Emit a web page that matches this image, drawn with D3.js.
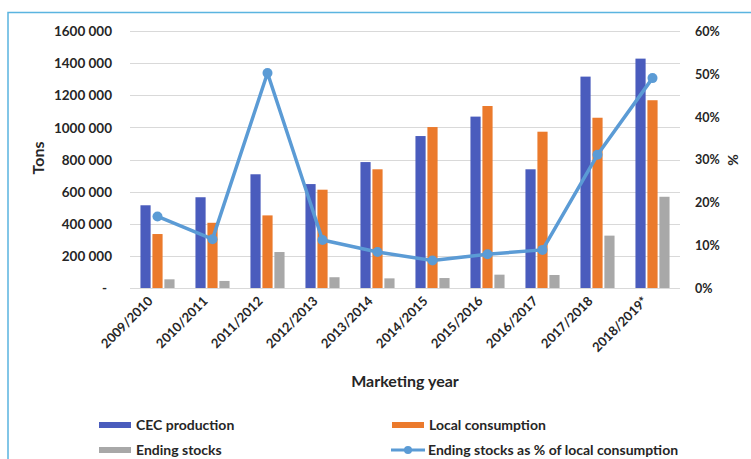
<!DOCTYPE html>
<html>
<head>
<meta charset="utf-8">
<script src="https://cdn.jsdelivr.net/npm/d3@7"></script>
<style>
  body { margin: 0; background: #fff; }
  svg { display: block; font-family: Lato, "Open Sans", sans-serif; font-weight: bold; }
  .grid line { stroke: #d9d9d9; stroke-width: 1; }
</style>
</head>
<body>
<svg id="chart" width="751" height="459"></svg>
<script>
const years = ['2009/2010', '2010/2011', '2011/2012', '2012/2013', '2013/2014',
  '2014/2015', '2015/2016', '2016/2017', '2017/2018', '2018/2019*'];
const production = [515000, 565000, 708000, 647000, 784000, 946000, 1067000, 739000, 1316000, 1428000];
const consumption = [336000, 406000, 452000, 612000, 739000, 1002000, 1133000, 973000, 1060000, 1169000];
const stocks = [54000, 44000, 224000, 67000, 60000, 62000, 83000, 81000, 326000, 568000];
const stockPct = [0.167, 0.114, 0.502, 0.112, 0.084, 0.064, 0.079, 0.089, 0.311, 0.490];

const tonTicks = [0, 200000, 400000, 600000, 800000, 1000000, 1200000, 1400000, 1600000];
const tonLabels = ['-', '200 000', '400 000', '600 000', '800 000', '1000 000', '1200 000', '1400 000', '1600 000'];
const pctTicks = [0, 0.1, 0.2, 0.3, 0.4, 0.5, 0.6];

const seriesNames = ['CEC production', 'Local consumption', 'Ending stocks'];
const seriesColors = ['#4a5cbd', '#eb7a2c', '#a8a8a8'];
const lineName = 'Ending stocks as % of local consumption';
const lineColor = '#5b9bd5';

const MARGIN = { LEFT: 130, RIGHT: 71, TOP: 31, BOTTOM: 171 };
const WIDTH = 751, HEIGHT = 459;

const svg = d3.select('#chart');

// frame round the figure (only top and left show)
svg.append('rect')
  .attr('x', 8).attr('y', 12.5)
  .attr('width', 800).attr('height', 500)
  .attr('fill', 'none')
  .attr('stroke', '#5ab4e0')
  .attr('stroke-width', 1.5);

const x0 = d3.scaleBand()
  .domain(years)
  .range([MARGIN.LEFT, WIDTH - MARGIN.RIGHT])
  .paddingInner(0.38)
  .paddingOuter(0.19);

const x1 = d3.scaleBand()
  .domain(seriesNames)
  .range([0, x0.bandwidth()])
  .paddingInner(0.15);

const y = d3.scaleLinear()
  .domain([0, 1600000])
  .range([HEIGHT - MARGIN.BOTTOM, MARGIN.TOP]);

const y2 = d3.scaleLinear()
  .domain([0, 0.6])
  .range(y.range());

// gridlines
svg.append('g')
  .attr('class', 'grid')
  .selectAll('line')
  .data(tonTicks)
  .join('line')
  .attr('x1', MARGIN.LEFT)
  .attr('x2', WIDTH - MARGIN.RIGHT)
  .attr('y1', d => Math.round(y(d)) + 0.5)
  .attr('y2', d => Math.round(y(d)) + 0.5);

// left axis labels
const leftAxis = d3.axisLeft(y)
  .tickValues(tonTicks)
  .tickSize(0)
  .tickPadding(0)
  .tickFormat((d, i) => tonLabels[i]);

const gLeft = svg.append('g')
  .attr('transform', 'translate(112,0)')
  .call(leftAxis);
gLeft.select('.domain').remove();
gLeft.selectAll('text')
  .attr('dy', '0.35em')
  .attr('x', d => d === 0 ? -5 : 0)
  .style('font-family', 'Lato, sans-serif')
  .style('font-size', '13.5px')
  .attr('fill', '#262626');

// right axis labels
const rightAxis = d3.axisRight(y2)
  .tickValues(pctTicks)
  .tickSize(0)
  .tickPadding(0)
  .tickFormat(d3.format('.0%'));

const gRight = svg.append('g')
  .attr('transform', 'translate(695,0)')
  .call(rightAxis);
gRight.select('.domain').remove();
gRight.selectAll('text')
  .attr('dy', '0.35em')
  .style('font-family', 'Lato, sans-serif')
  .style('font-size', '12.5px')
  .attr('fill', '#262626');

// bars
const barData = years.map((yr, i) => ({
  year: yr,
  values: [production[i], consumption[i], stocks[i]]
}));

const groups = svg.append('g')
  .selectAll('g')
  .data(barData)
  .join('g')
  .attr('transform', d => `translate(${x0(d.year)},0)`);

groups.selectAll('rect')
  .data(d => d.values.map((v, k) => ({ name: seriesNames[k], value: v, k })))
  .join('rect')
  .attr('x', d => x1(d.name))
  .attr('width', x1.bandwidth())
  .attr('y', d => y(d.value))
  .attr('height', d => y(0) - y(d.value))
  .attr('fill', d => seriesColors[d.k]);

// line on the second axis
const line = d3.line()
  .x((d, i) => x0(years[i]) + x0.bandwidth() / 2)
  .y(d => y2(d));

svg.append('path')
  .datum(stockPct)
  .attr('d', line)
  .attr('fill', 'none')
  .attr('stroke', lineColor)
  .attr('stroke-width', 3.5)
  .attr('stroke-linejoin', 'round');

svg.append('g')
  .selectAll('circle')
  .data(stockPct)
  .join('circle')
  .attr('cx', (d, i) => x0(years[i]) + x0.bandwidth() / 2)
  .attr('cy', d => y2(d))
  .attr('r', 5)
  .attr('fill', lineColor);

// x labels, rotated
svg.append('g')
  .selectAll('text')
  .data(years)
  .join('text')
  .attr('transform', d => `translate(${x0(d) + x0.bandwidth() / 2 - 4},302) rotate(-45)`)
  .attr('text-anchor', 'end')
  .style('font-size', '13px')
  .attr('fill', '#262626')
  .text(d => d);

// axis titles
svg.append('text')
  .attr('transform', 'translate(44,158) rotate(-90)')
  .attr('text-anchor', 'middle')
  .style('font-size', '16px')
  .attr('fill', '#262626')
  .text('Tons');

svg.append('text')
  .attr('transform', 'translate(738,160) rotate(-90)')
  .attr('text-anchor', 'middle')
  .style('font-size', '14px')
  .attr('fill', '#262626')
  .text('%');

svg.append('text')
  .attr('x', 405)
  .attr('y', 387)
  .attr('text-anchor', 'middle')
  .style('font-size', '16px')
  .attr('fill', '#262626')
  .text('Marketing year');

// legend
const legendItems = [
  { name: seriesNames[0], color: seriesColors[0], type: 'bar', x: 99, y: 425 },
  { name: seriesNames[1], color: seriesColors[1], type: 'bar', x: 392, y: 425 },
  { name: seriesNames[2], color: seriesColors[2], type: 'bar', x: 99, y: 450 },
  { name: lineName, color: lineColor, type: 'line', x: 391, y: 450 }
];

const legend = svg.append('g')
  .selectAll('g')
  .data(legendItems)
  .join('g')
  .attr('transform', d => `translate(${d.x},${d.y})`);

legend.filter(d => d.type === 'bar')
  .append('rect')
  .attr('x', 0).attr('y', -3)
  .attr('width', 32).attr('height', 6)
  .attr('fill', d => d.color);

legend.filter(d => d.type === 'line')
  .append('line')
  .attr('x1', 0).attr('x2', 34)
  .attr('y1', 0).attr('y2', 0)
  .attr('stroke', d => d.color)
  .attr('stroke-width', 3);

legend.filter(d => d.type === 'line')
  .append('circle')
  .attr('cx', 17).attr('cy', 0).attr('r', 4)
  .attr('fill', d => d.color);

legend.append('text')
  .attr('x', 37)
  .attr('dy', '0.35em')
  .style('font-size', '14px')
  .attr('fill', '#262626')
  .text(d => d.name);
</script>
</body>
</html>
